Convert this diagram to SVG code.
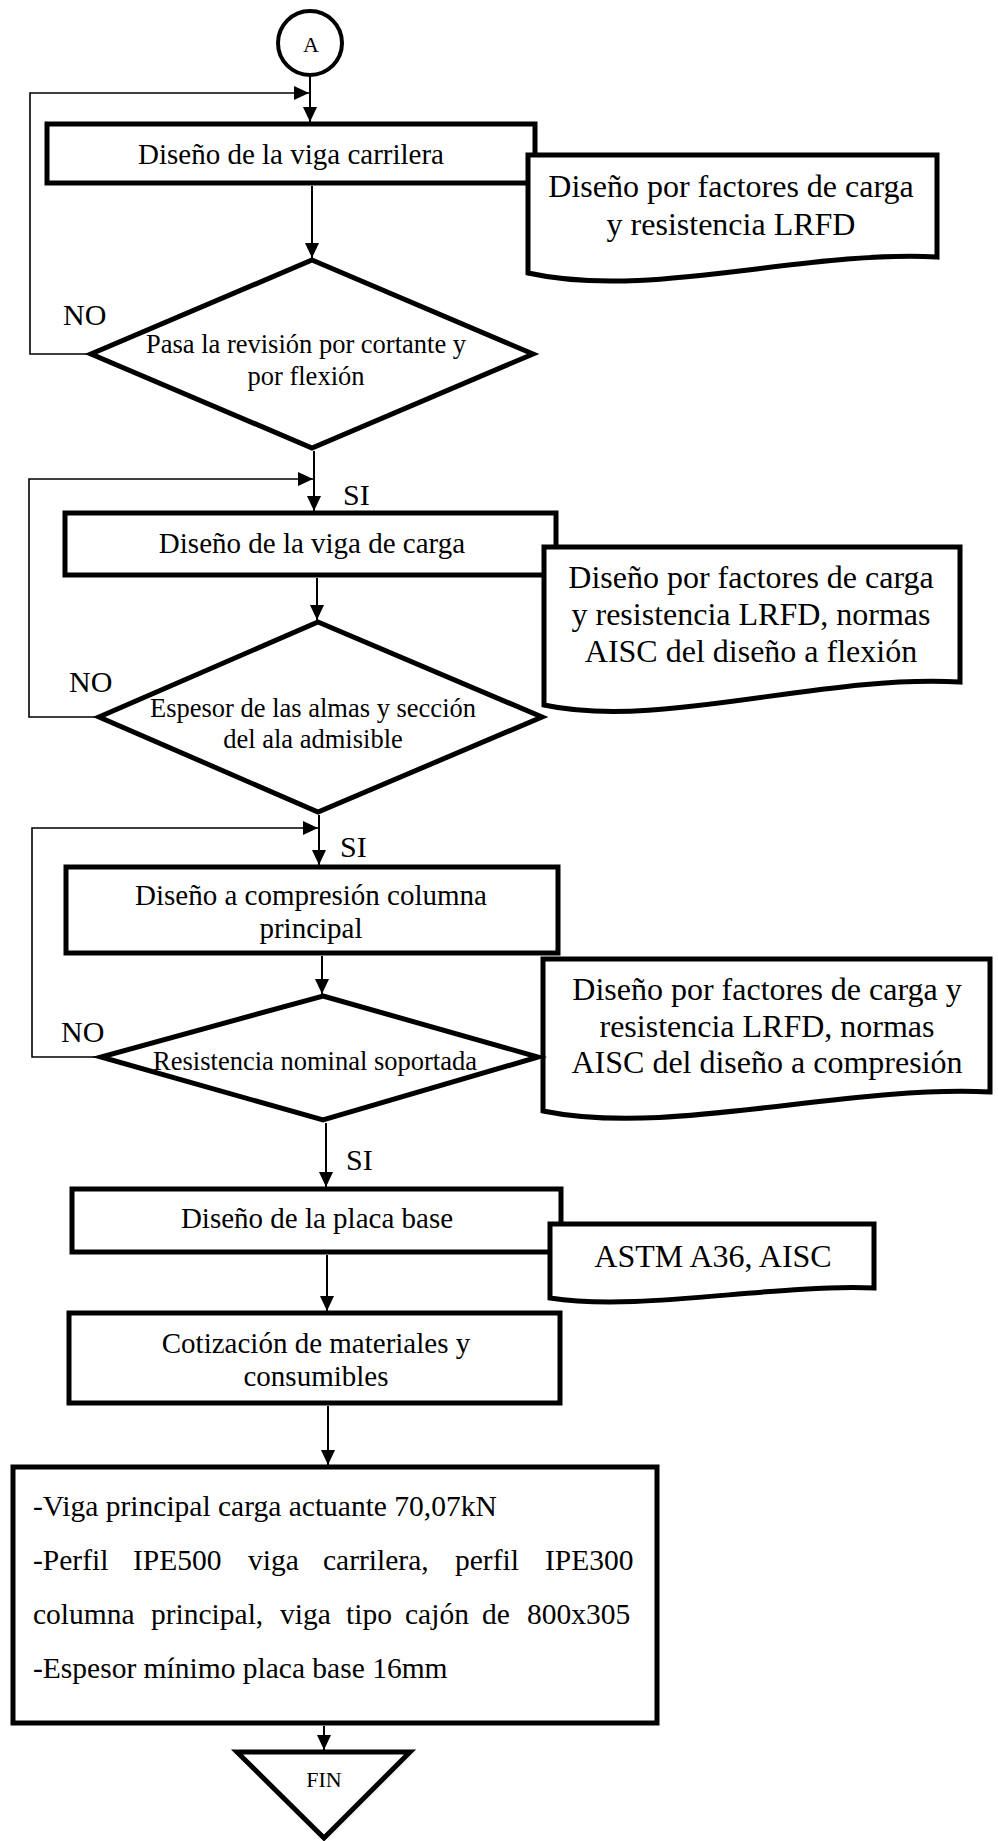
<svg xmlns="http://www.w3.org/2000/svg" width="998" height="1841" viewBox="0 0 998 1841">
  <style>
    .box { fill: #fff; stroke: #000; stroke-width: 5; stroke-linejoin: miter; }
    .doc { fill: #fff; stroke: #000; stroke-width: 5; stroke-linejoin: miter; }
    .dec { fill: #fff; stroke: #000; stroke-width: 5; stroke-linejoin: miter; }
    .flow { fill: none; stroke: #000; stroke-width: 2; }
    .loop { fill: none; stroke: #000; stroke-width: 1.6; }
    text { font-family: "Liberation Serif", "Times New Roman", serif; fill: #000; }
    .t29 { font-size: 29px; text-anchor: middle; }
    .t32 { font-size: 32px; text-anchor: middle; }
    .t26 { font-size: 26.5px; text-anchor: middle; }
    .lbl { font-size: 30px; }
    .sm { font-size: 22px; text-anchor: middle; }
    .list { font-size: 29.5px; }
  </style>
  <defs>
    <marker id="arrow" markerUnits="userSpaceOnUse" markerWidth="16" markerHeight="14" refX="15" refY="7" orient="auto">
      <path d="M0,0 L15,7 L0,14 Z" fill="#000"/>
    </marker>
  </defs>

  <!-- connectors -->
  <g id="connectors">
    <line class="flow" x1="310" y1="76" x2="310" y2="122" marker-end="url(#arrow)"/>
    <line class="flow" x1="312" y1="186" x2="312" y2="258" marker-end="url(#arrow)"/>
    <line class="flow" x1="314" y1="451" x2="314" y2="511" marker-end="url(#arrow)"/>
    <line class="flow" x1="317" y1="578" x2="317" y2="620" marker-end="url(#arrow)"/>
    <line class="flow" x1="319" y1="815" x2="319" y2="865" marker-end="url(#arrow)"/>
    <line class="flow" x1="322" y1="956" x2="322" y2="994" marker-end="url(#arrow)"/>
    <line class="flow" x1="326" y1="1123" x2="326" y2="1187" marker-end="url(#arrow)"/>
    <line class="flow" x1="327" y1="1255" x2="327" y2="1311" marker-end="url(#arrow)"/>
    <line class="flow" x1="328" y1="1406" x2="328" y2="1465" marker-end="url(#arrow)"/>
    <line class="flow" x1="324" y1="1726" x2="324" y2="1750" marker-end="url(#arrow)"/>

    <!-- NO loops back to the top of each stage -->
    <polyline class="loop" points="91,354 30,354 30,93 309,93" marker-end="url(#arrow)"/>
    <polyline class="loop" points="99,717 29,717 29,479 313,479" marker-end="url(#arrow)"/>
    <polyline class="loop" points="101,1057 32,1057 32,828 318,828" marker-end="url(#arrow)"/>
  </g>

  <!-- start connector -->
  <g id="node-start">
    <circle cx="310" cy="43" r="32" fill="#fff" stroke="#000" stroke-width="4"/>
    <text class="sm" x="311" y="52">A</text>
  </g>

  <g id="node-viga-carrilera">
    <rect class="box" x="47" y="124" width="488" height="59"/>
    <text class="t29" x="291" y="164">Diseño de la viga carrilera</text>
  </g>
  <g id="doc-lrfd-1">
    <path class="doc" d="M528,155 H937 V257 C800,250 650,300 528,273 Z"/>
    <text class="t32" x="731" y="197">Diseño por factores de carga</text>
    <text class="t32" x="731" y="235">y resistencia LRFD</text>
  </g>

  <g id="node-check-cortante">
    <polygon class="dec" points="312,260 533,354 312,448 91,354"/>
    <text class="t26" x="306" y="353">Pasa la revisión por cortante y</text>
    <text class="t26" x="306" y="385">por flexión</text>
  </g>
  <text class="lbl" x="63" y="325">NO</text>
  <text class="lbl" x="343" y="505">SI</text>

  <g id="node-viga-carga">
    <rect class="box" x="65" y="513" width="491" height="62"/>
    <text class="t29" x="312" y="553">Diseño de la viga de carga</text>
  </g>
  <g id="doc-lrfd-2">
    <path class="doc" d="M544,547 H960 V682 C820,674 660,730 544,705 Z"/>
    <text class="t32" x="751" y="588">Diseño por factores de carga</text>
    <text class="t32" x="751" y="625">y resistencia LRFD, normas</text>
    <text class="t32" x="751" y="662">AISC del diseño a flexión</text>
  </g>

  <g id="node-check-almas">
    <polygon class="dec" points="318,622 542,717 318,812 99,717"/>
    <text class="t26" x="313" y="717">Espesor de las almas y sección</text>
    <text class="t26" x="313" y="748">del ala admisible</text>
  </g>
  <text class="lbl" x="69" y="692">NO</text>
  <text class="lbl" x="340" y="857">SI</text>

  <g id="node-columna">
    <rect class="box" x="66" y="867" width="492" height="86"/>
    <text class="t29" x="311" y="905">Diseño a compresión columna</text>
    <text class="t29" x="311" y="938">principal</text>
  </g>
  <g id="doc-lrfd-3">
    <path class="doc" d="M543,959 H990 V1092 C840,1085 670,1137 543,1111 Z"/>
    <text class="t32" x="767" y="1000">Diseño por factores de carga y</text>
    <text class="t32" x="767" y="1037">resistencia LRFD, normas</text>
    <text class="t32" x="767" y="1073">AISC del diseño a compresión</text>
  </g>

  <g id="node-check-resistencia">
    <polygon class="dec" points="323,996 538,1057 323,1120 101,1057"/>
    <text class="t26" x="315" y="1070">Resistencia nominal soportada</text>
  </g>
  <text class="lbl" x="61" y="1042">NO</text>
  <text class="lbl" x="346" y="1170">SI</text>

  <g id="node-placa-base">
    <rect class="box" x="72" y="1189" width="489" height="63"/>
    <text class="t29" x="317" y="1228">Diseño de la placa base</text>
  </g>
  <g id="doc-astm">
    <path class="doc" d="M550,1224 H874 V1288 C770,1284 640,1312 550,1298 Z"/>
    <text class="t32" x="713" y="1267">ASTM A36, AISC</text>
  </g>

  <g id="node-cotizacion">
    <rect class="box" x="69" y="1313" width="491" height="90"/>
    <text class="t29" x="316" y="1353">Cotización de materiales y</text>
    <text class="t29" x="316" y="1386">consumibles</text>
  </g>

  <g id="node-resultados">
    <rect class="box" x="13" y="1467" width="644" height="256"/>
    <text class="list" x="33" y="1516">-Viga principal carga actuante 70,07kN</text>
    <!-- justified lines: words placed individually -->
    <text class="list" y="1570"><tspan x="33">-Perfil</tspan> <tspan x="133">IPE500</tspan> <tspan x="248">viga</tspan> <tspan x="323">carrilera,</tspan> <tspan x="455">perfil</tspan> <tspan x="545">IPE300</tspan></text>
    <text class="list" y="1624"><tspan x="33">columna</tspan> <tspan x="151">principal,</tspan> <tspan x="280">viga</tspan> <tspan x="346">tipo</tspan> <tspan x="405">cajón</tspan> <tspan x="482">de</tspan> <tspan x="527">800x305</tspan></text>
    <text class="list" x="33" y="1678">-Espesor mínimo placa base 16mm</text>
  </g>

  <g id="node-fin">
    <polygon class="dec" points="237,1752 410,1752 324,1838"/>
    <text class="sm" x="324" y="1787">FIN</text>
  </g>
</svg>
